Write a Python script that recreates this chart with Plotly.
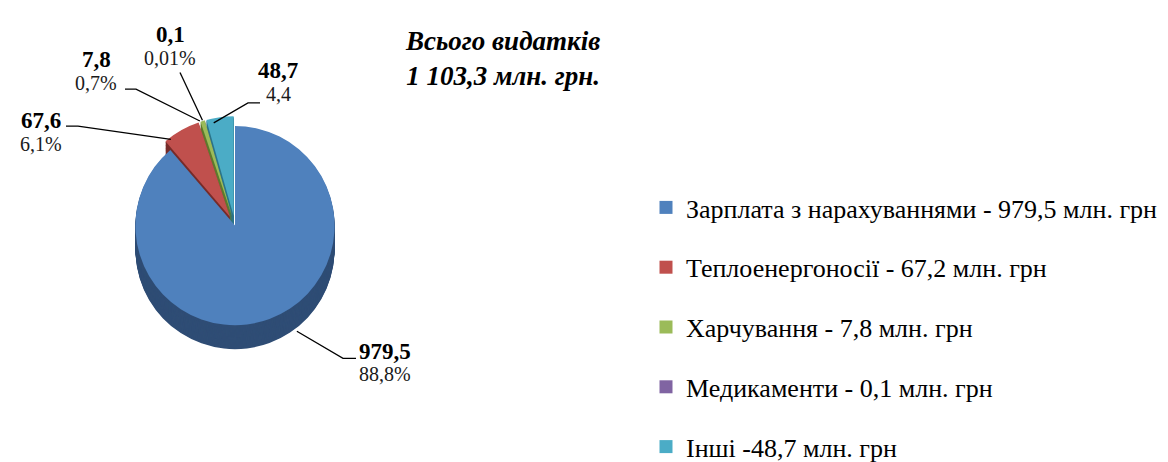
import math
import plotly.graph_objects as go

# ---------------- data ----------------
categories = ["Зарплата з нарахуваннями", "Теплоенергоносії", "Харчування", "Медикаменти", "Інші"]
values = [979.5, 67.6, 7.8, 0.1, 48.7]
value_labels = ["979,5", "67,6", "7,8", "0,1", "48,7"]
share_labels = ["88,8%", "6,1%", "0,7%", "0,01%", "4,4"]
legend_labels = [
    "Зарплата з нарахуваннями - 979,5 млн. грн",
    "Теплоенергоносії - 67,2 млн. грн",
    "Харчування - 7,8 млн. грн",
    "Медикаменти - 0,1 млн. грн",
    "Інші -48,7 млн. грн",
]
title_lines = ["Всього видатків", "1 103,3 млн. грн."]

# ---------------- style / layout ----------------
W, H = 1168, 462
CX, CY = 227, 236          # pie centre (px)
R = 108                    # pie radius (px)
DEPTH = 26                 # pseudo 3-D thickness (px)
PULL = [0, 0.1, 0.1, 0.1, 0.1]
TOP_COLORS = ["#4F81BD", "#C0504D", "#9BBB59", "#8064A2", "#4BACC6"]
SIDE_COLORS = ["#2F4D75", "#772B29", "#5F7A2E", "#4E3C66", "#2C7589"]
FONT = "Liberation Serif"

# label placement (px centres) and leader lines: (label end, elbow, angle fraction, radius fraction, on side?)
LABEL_POS = [(377, 372), (33, 122), (88, 56), (162, 29), (270, 68)]
LINE_GAP = 25
LEADERS = [
    ((348, 380), (335, 380), 0.454, 1.0, True),
    ((58, 128), (70, 128), 0.25, 0.95, False),
    ((117, 88), (128, 88), 0.5, 1.0, False),
    ((172, 70), None, 0.5, 1.0, False),
    ((252, 103), (240, 103), 0.3, 0.95, False),
]
TITLE_POS = (494, 55)


def px(x):
    return x / W


def py(y):
    return 1 - y / H


half = R * (1 + max(PULL))


def domain(dy):
    return dict(x=[px(CX - half), px(CX + half)],
                y=[py(CY + dy + half), py(CY + dy - half)])


fig = go.Figure()

# side layers (stacked copies of the same pie, shifted down)
for k in range(DEPTH, 0, -1):
    fig.add_trace(go.Pie(
        labels=categories, values=values, sort=False, direction="clockwise",
        rotation=0, pull=PULL, domain=domain(k),
        marker=dict(colors=SIDE_COLORS, line=dict(width=0)),
        textinfo="none", hoverinfo="skip", showlegend=False,
    ))

# top surface
fig.add_trace(go.Pie(
    labels=categories, values=values, sort=False, direction="clockwise",
    rotation=0, pull=PULL, domain=domain(0),
    marker=dict(colors=TOP_COLORS, line=dict(width=0)),
    textinfo="none", hovertemplate="%{label}: %{value}<extra></extra>",
    showlegend=False,
))

# legend entries
for name, c in zip(legend_labels, TOP_COLORS):
    fig.add_trace(go.Scatter(
        x=[None], y=[None], mode="markers", name=name, legendgroup=name,
        marker=dict(symbol="square", size=13, color=c), showlegend=True,
    ))

# data labels
annotations = []
for (lx, ly), v, s in zip(LABEL_POS, value_labels, share_labels):
    annotations.append(dict(x=px(lx), y=py(ly), xref="paper", yref="paper",
                            text=f"<b>{v}</b>", showarrow=False,
                            font=dict(family=FONT, size=23, color="black"),
                            xanchor="center", yanchor="middle"))
    annotations.append(dict(x=px(lx), y=py(ly + LINE_GAP), xref="paper", yref="paper",
                            text=s, showarrow=False,
                            font=dict(family=FONT, size=20, color="#1a1a1a"),
                            xanchor="center", yanchor="middle"))

annotations.append(dict(x=px(TITLE_POS[0]), y=py(TITLE_POS[1]), xref="paper", yref="paper",
                        text="<b><i>" + "<br>".join(title_lines) + "</i></b>",
                        showarrow=False, align="center",
                        font=dict(family=FONT, size=27, color="black"),
                        xanchor="center", yanchor="middle"))

# leader lines, anchored on slice geometry derived from values
total = sum(values)
starts = []
acc = 0
for v in values:
    starts.append(acc / total * 360)
    acc += v
shapes = []
for i, (end, elbow, frac, rf, side) in enumerate(LEADERS):
    span = values[i] / total * 360
    mid = math.radians(starts[i] + span / 2)
    ang = math.radians(starts[i] + frac * span)
    ox = PULL[i] * R * math.sin(mid)
    oy = -PULL[i] * R * math.cos(mid)
    ax = CX + ox + rf * R * math.sin(ang)
    ay = CY + oy - rf * R * math.cos(ang) + (DEPTH if side else 0)
    pts = [end] + ([elbow] if elbow else []) + [(ax, ay)]
    path = "M " + " L ".join(f"{px(x):.5f},{py(y):.5f}" for x, y in pts)
    shapes.append(dict(type="path", path=path, xref="paper", yref="paper",
                       line=dict(color="black", width=1.3)))

fig.update_layout(
    width=W, height=H,
    margin=dict(l=0, r=0, t=0, b=0),
    paper_bgcolor="white", plot_bgcolor="white",
    annotations=annotations, shapes=shapes,
    showlegend=True,
    legend=dict(x=px(638), y=py(191), xanchor="left", yanchor="top",
                font=dict(family=FONT, size=26, color="black"),
                tracegroupgap=23, bgcolor="rgba(0,0,0,0)"),
    xaxis=dict(visible=False), yaxis=dict(visible=False),
)

fig.write_html("out.html")
